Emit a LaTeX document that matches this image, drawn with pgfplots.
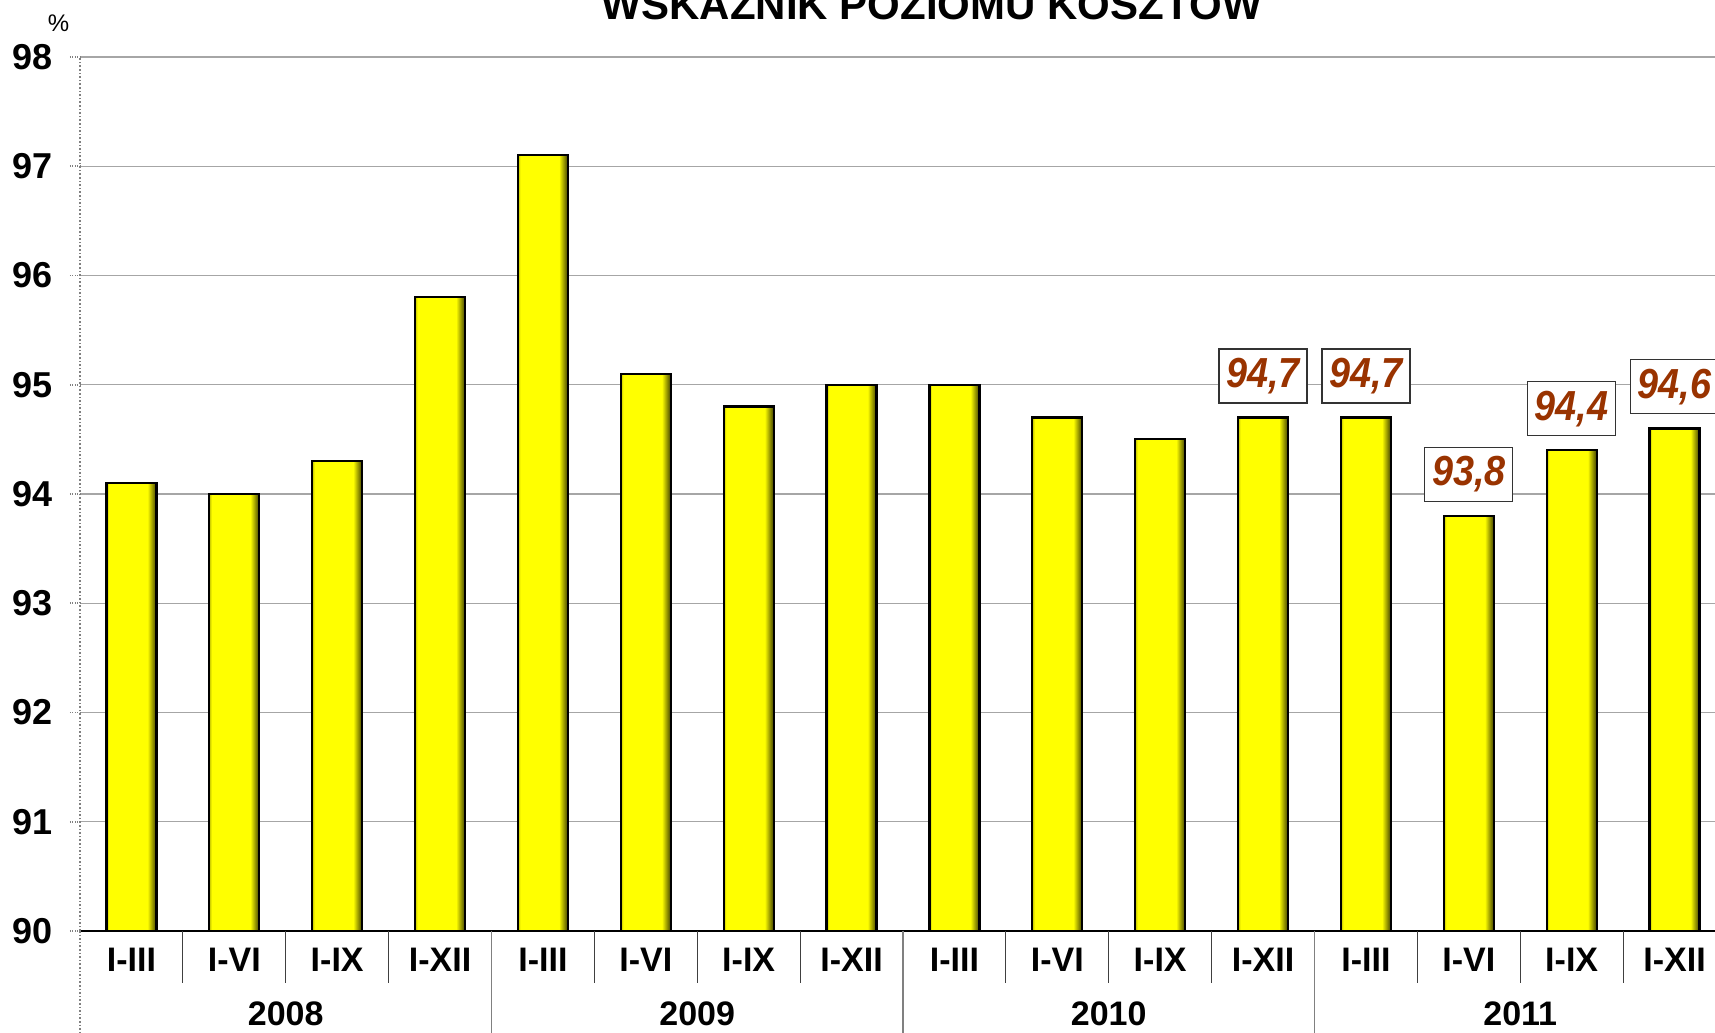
\documentclass[border=0pt]{standalone}
\usepackage{pgfplots}
\usepackage{pgfplotstable}
\pgfplotsset{compat=1.18}
\usepackage{fontspec}
\setmainfont{Liberation Sans}
\newfontfamily\condfont[FakeStretch=0.9]{Liberation Sans}
\definecolor{lblbrown}{RGB}{153,51,0}
\definecolor{baryellow}{RGB}{255,255,0}
\pgfdeclarehorizontalshading{bevel}{100bp}{color(0bp)=(baryellow!75!black); color(25bp)=(baryellow!75!black); color(27.5bp)=(baryellow); color(66bp)=(baryellow); color(75bp)=(baryellow!25!black); color(100bp)=(baryellow!25!black)}
\pgfplotstableread{
idx val
0 94.1
1 94.0
2 94.3
3 95.8
4 97.1
5 95.1
6 94.8
7 95.0
8 95.0
9 94.7
10 94.5
11 94.7
12 94.7
13 93.8
14 94.4
15 94.6
}\costdata
\begin{document}
\begin{tikzpicture}
\path[use as bounding box, clip] (-40pt,-51pt) rectangle (817.5pt,465.5pt);
\begin{axis}[
  scale only axis, width=823pt, height=437pt,
  xmin=-0.5, xmax=15.5, ymin=90, ymax=98,
  ytick={90,91,...,98},
  xtick={0,1,...,15},
  xticklabels={I-III,I-VI,I-IX,I-XII,I-III,I-VI,I-IX,I-XII,I-III,I-VI,I-IX,I-XII,I-III,I-VI,I-IX,I-XII},
  axis lines*=left,
  x axis line style={black, line width=0.8pt},
  y axis line style={gray, densely dotted, line width=0.8pt},
  ymajorgrids, grid style={gray!70, line width=0.7pt},
  tick align=outside, major tick length=5pt,
  x tick style={draw=none},
  y tick style={gray, densely dotted, line width=0.8pt},
  /pgf/number format/assume math mode=true,
  tick label style={font=\bfseries\fontsize{17}{20}\selectfont},
  yticklabel style={font=\bfseries\fontsize{18}{20}\selectfont, xshift=-5pt},
  clip=false,
]
\pgfplotsinvokeforeach{0,1,...,15}{
  \addplot[ybar, bar shift=0pt, bar width=25pt, draw=black, line width=1.1pt, shading=bevel,
    restrict x to domain=#1:#1] table[x=idx, y=val] {\costdata};
}
\addplot[ybar, bar shift=0pt, bar width=25pt, draw=none, fill=none,
  nodes near coords,
  nodes near coords style={font=\condfont\bfseries\itshape\fontsize{21}{24}\selectfont, text=lblbrown, draw=black!80, fill=white, line width=0.6pt, minimum width=44pt, minimum height=27pt, inner sep=0pt, anchor=south, yshift=7pt, /pgf/number format/.cd, fixed, fixed zerofill, precision=1, use comma}
] coordinates {(11,94.7) (12,94.7) (13,93.8) (14,94.4) (15,94.6)};
\pgfplotsinvokeforeach{0.5,1.5,2.5,4.5,5.5,6.5,8.5,9.5,10.5,12.5,13.5,14.5}{
  \draw[black!75, line width=0.6pt] (axis cs:#1,90) -- ++(0pt,-26pt);
}
\pgfplotsinvokeforeach{3.5,7.5,11.5,15.5}{
  \draw[gray, line width=0.7pt] (axis cs:#1,90) -- ++(0pt,-60pt);
}
\draw[gray, densely dotted, line width=0.8pt] (axis cs:-0.5,90) -- ++(0pt,-60pt);
\node[font=\bfseries\fontsize{17}{20}\selectfont, yshift=-41.5pt] at (axis cs:1.5,90) {2008};
\node[font=\bfseries\fontsize{17}{20}\selectfont, yshift=-41.5pt] at (axis cs:5.5,90) {2009};
\node[font=\bfseries\fontsize{17}{20}\selectfont, yshift=-41.5pt] at (axis cs:9.5,90) {2010};
\node[font=\bfseries\fontsize{17}{20}\selectfont, yshift=-41.5pt] at (axis cs:13.5,90) {2011};
\node[font=\bfseries\fontsize{21}{25}\selectfont, anchor=base, yshift=18.5pt] at (rel axis cs:0.5176,1) {WSKAŹNIK POZIOMU KOSZTÓW};
\node[font=\fontsize{12}{14}\selectfont, xshift=-10.75pt, yshift=17pt] at (rel axis cs:0,1) {\%};
\end{axis}
\end{tikzpicture}
\end{document}
